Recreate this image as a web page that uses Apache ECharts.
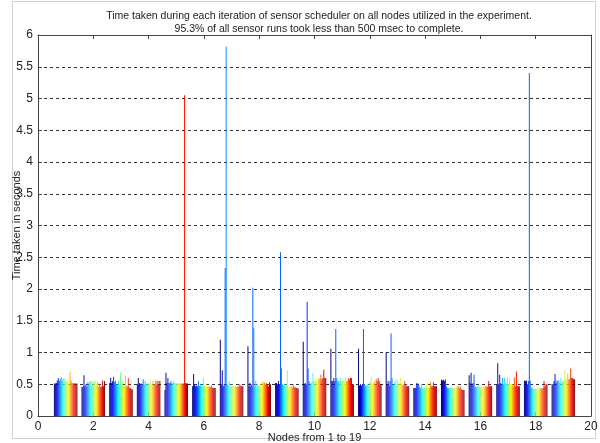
<!DOCTYPE html>
<html><head><meta charset="utf-8">
<script src="https://cdn.jsdelivr.net/npm/echarts@6/dist/echarts.min.js"></script>
<style>html,body{margin:0;padding:0;background:#fff}#c{width:600px;height:443px}</style>
</head><body><div id="c"></div>
<script>
const titleLines = ["Time taken during each iteration of sensor scheduler on all nodes utilized in the experiment.",
  "95.3% of all sensor runs took less than 500 msec to complete."];
const xName = "Nodes from 1 to 19";
const yName = "Time taken in seconds";
const nodes = [1,2,3,4,5,6,7,8,9,10,11,12,13,14,15,16,17,18,19];
// seconds per iteration (24 iterations per node)
const node1  = [0.51,0.51,0.52,0.56,0.6,0.55,0.58,0.61,0.56,0.59,0.55,0.6,0.56,0.53,0.58,0.52,0.7,0.56,0.52,0.51,0.52,0.51,0.51,0.51];
const node2  = [0.46,0.46,0.64,0.47,0.5,0.46,0.53,0.48,0.54,0.55,0.47,0.55,0.52,0.55,0.56,0.5,0.54,0.46,0.5,0.46,0.46,0.56,0.47,0.55];
const node3  = [0.52,0.6,0.52,0.55,0.62,0.53,0.56,0.5,0.48,0.55,0.5,0.68,0.5,0.55,0.48,0.47,0.64,0.47,0.47,0.6,0.45,0.44,0.42,0.42];
const node4  = [0.5,0.6,0.52,0.5,0.51,0.5,0.58,0.5,0.55,0.51,0.5,0.52,0.5,0.57,0.5,0.5,0.55,0.5,0.49,0.56,0.5,0.55,0.49,0.55];
const node5  = [0.41,0.68,0.52,0.6,0.52,0.52,0.55,0.52,0.52,0.55,0.52,0.52,0.52,0.51,0.52,0.51,0.51,0.51,0.51,0.51,5.05,0.52,0.51,0.51];
const node6  = [0.47,0.66,0.5,0.47,0.48,0.47,0.55,0.47,0.5,0.47,0.47,0.6,0.47,0.47,0.5,0.46,0.46,0.47,0.45,0.48,0.45,0.44,0.44,0.44];
const node7  = [1.2,0.5,0.72,0.47,0.5,2.33,5.82,0.5,0.48,0.55,0.47,0.47,0.5,0.46,0.46,0.47,0.47,0.46,0.47,0.46,0.5,0.47,0.47,0.47];
const node8  = [1.1,0.47,0.52,0.47,0.5,2.02,1.38,0.47,0.55,0.47,0.5,0.47,0.47,0.52,0.47,0.55,0.52,0.53,0.5,0.52,0.5,0.47,0.53,0.5];
const node9  = [0.52,0.52,0.5,0.55,0.5,2.58,0.75,0.5,0.48,0.5,0.47,0.5,0.72,0.45,0.47,0.46,0.47,0.45,0.5,0.46,0.45,0.44,0.44,0.43];
const node10 = [1.17,0.5,0.52,0.5,1.8,0.75,0.55,0.5,0.52,0.55,0.68,0.55,0.55,0.6,0.58,0.56,0.6,0.58,0.65,0.58,0.6,0.73,0.6,0.6];
const node11 = [1.06,0.55,0.55,0.6,0.55,1.37,0.6,0.55,0.56,0.55,0.6,0.55,0.55,0.58,0.55,0.62,0.55,0.56,0.6,0.58,0.6,0.6,0.5,0.5];
const node12 = [1.06,0.48,0.5,0.48,0.5,1.37,0.5,0.48,0.48,0.5,0.48,0.52,0.55,0.62,0.5,0.52,0.55,0.5,0.58,0.55,0.6,0.55,0.5,0.5];
const node13 = [1.0,0.5,0.55,0.48,0.55,1.3,0.6,0.5,0.48,0.55,0.5,0.58,0.5,0.52,0.5,0.6,0.5,0.48,0.5,0.55,0.48,0.47,0.47,0.47];
const node14 = [0.44,0.44,0.44,0.52,0.5,0.51,0.46,0.44,0.5,0.44,0.44,0.45,0.44,0.5,0.44,0.45,0.44,0.53,0.47,0.47,0.53,0.47,0.47,0.47];
const node15 = [0.57,0.56,0.57,0.55,0.58,0.47,0.44,0.44,0.44,0.44,0.44,0.44,0.44,0.44,0.45,0.44,0.47,0.47,0.44,0.47,0.42,0.41,0.41,0.41];
const node16 = [0.64,0.52,0.68,0.5,0.52,0.65,0.46,0.46,0.46,0.46,0.48,0.46,0.46,0.47,0.46,0.47,0.46,0.46,0.47,0.46,0.55,0.47,0.47,0.47];
const node17 = [0.5,0.83,0.5,0.65,0.52,0.5,0.6,0.5,0.6,0.52,0.5,0.62,0.5,0.6,0.5,0.5,0.5,0.47,0.61,0.47,0.7,0.47,0.47,0.47];
const node18 = [0.56,0.55,0.56,0.5,0.55,5.4,0.56,0.45,0.44,0.43,0.43,0.43,0.43,0.43,0.43,0.44,0.43,0.44,0.43,0.44,0.55,0.46,0.5,0.5];
const node19 = [0.5,0.5,0.55,0.66,0.52,0.56,0.55,0.56,0.52,0.6,0.55,0.55,0.56,0.72,0.56,0.58,0.67,0.58,0.58,0.75,0.6,0.6,0.58,0.58];
const xTicks = [0,2,4,6,8,10,12,14,16,18,20];
const yTicks = [0,0.5,1,1.5,2,2.5,3,3.5,4,4.5,5,5.5,6];

const table = [node1,node2,node3,node4,node5,node6,node7,node8,node9,node10,node11,node12,node13,node14,node15,node16,node17,node18,node19];
const nIter = node1.length;
function jet(t){
  const c = v => Math.round(255*Math.max(0,Math.min(1,v)));
  const r = c(1.5 - Math.abs(4*t - 3));
  const g = c(1.5 - Math.abs(4*t - 2));
  const b = c(1.5 - Math.abs(4*t - 1));
  return 'rgb(' + r + ',' + g + ',' + b + ')';
}
const series = [];
for (let i = 0; i < nIter; i++) {
  series.push({
    type: 'bar', name: 'iter' + (i+1),
    data: nodes.map((n, k) => [n, table[k][i]]),
    barGap: '0%', barCategoryGap: '15%', barMinWidth: 0.1,
    itemStyle: { color: jet(i/(nIter-1)) },
    silent: true, animation: false, z: 3
  });
}
const font = 'Liberation Sans, Arial, sans-serif';
const axisCol = '#444';
const chart = echarts.init(document.getElementById('c'), null, {renderer: 'canvas'});
chart.setOption({
  animation: false,
  backgroundColor: '#fff',
  title: { text: titleLines.join('\n'), left: 314, top: 5, textAlign: 'center',
    textStyle: { fontFamily: font, fontSize: 10.5, fontWeight: 'normal', color: '#222', lineHeight: 13 } },
  graphic: [{ type: 'rect', shape: { x: 12.5, y: 1.5, width: 583, height: 437 }, style: { fill: 'none', stroke: '#cfcfcf', lineWidth: 1 }, z: -10 }],
  grid: { left: 38, right: 9, top: 35, bottom: 27, containLabel: false, outerBoundsMode: 'none' },
  xAxis: [{
    type: 'value', min: xTicks[0], max: xTicks[xTicks.length-1], interval: 2,
    name: xName, nameLocation: 'middle', nameGap: 16, nameMoveOverlap: false,
    nameTextStyle: { fontFamily: font, fontSize: 11, color: '#222' },
    axisLine: { show: true, lineStyle: { color: axisCol, width: 1 } },
    axisTick: { show: true, inside: true, length: 4, lineStyle: { color: axisCol } },
    axisLabel: { fontFamily: font, fontSize: 12, color: '#222', margin: 5 },
    splitLine: { show: false }
  }, {
    type: 'value', position: 'top', min: xTicks[0], max: xTicks[xTicks.length-1], interval: 2,
    axisLine: { show: true, onZero: false, lineStyle: { color: axisCol, width: 1 } },
    axisTick: { show: true, inside: true, length: 4, lineStyle: { color: axisCol } },
    axisLabel: { show: false }, splitLine: { show: false }
  }],
  yAxis: [{
    type: 'value', min: yTicks[0], max: yTicks[yTicks.length-1], interval: 0.5,
    name: yName, nameLocation: 'middle', nameGap: 16, nameRotate: 90, nameMoveOverlap: false,
    nameTextStyle: { fontFamily: font, fontSize: 11, color: '#222' },
    axisLine: { show: true, lineStyle: { color: axisCol, width: 1 } },
    axisTick: { show: true, inside: true, length: 4, lineStyle: { color: axisCol } },
    axisLabel: { fontFamily: font, fontSize: 12, color: '#222', margin: 5 },
    splitLine: { show: true, lineStyle: { color: '#333', type: [3, 3], width: 1 } }
  }, {
    type: 'value', position: 'right', min: yTicks[0], max: yTicks[yTicks.length-1], interval: 0.5,
    axisLine: { show: true, onZero: false, lineStyle: { color: axisCol, width: 1 } },
    axisTick: { show: true, inside: true, length: 4, lineStyle: { color: axisCol } },
    axisLabel: { show: false }, splitLine: { show: false }
  }],
  series: series
});
</script></body></html>
